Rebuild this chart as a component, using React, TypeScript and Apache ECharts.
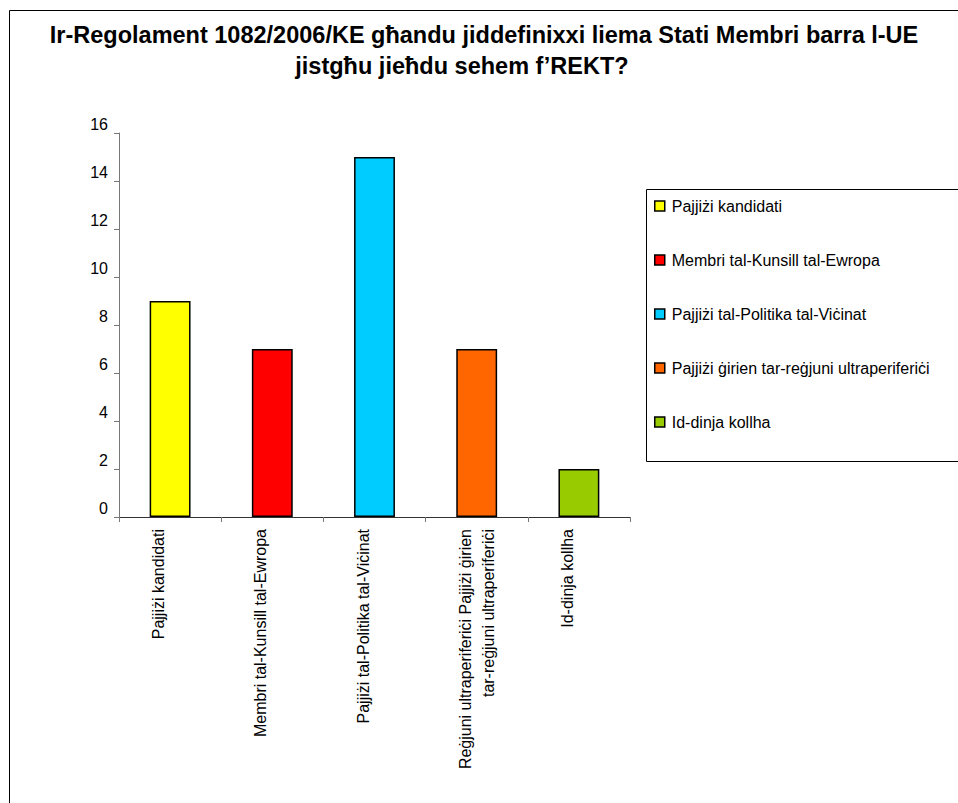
import React, { useEffect, useRef } from "react";
import * as echarts from "echarts";

const titleLines = [
  "Ir-Regolament 1082/2006/KE għandu jiddefinixxi liema Stati Membri barra l-UE",
  "jistgħu jieħdu sehem f’REKT?",
];
const categories = [
  "Pajjiżi kandidati",
  "Membri tal-Kunsill tal-Ewropa",
  "Pajjiżi tal-Politika tal-Viċinat",
  "Reġjuni ultraperiferiċi Pajjiżi ġirien\ntar-reġjuni ultraperiferiċi",
  "Id-dinja kollha",
];
const seriesNames = [
  "Pajjiżi kandidati",
  "Membri tal-Kunsill tal-Ewropa",
  "Pajjiżi tal-Politika tal-Viċinat",
  "Pajjiżi ġirien tar-reġjuni ultraperiferiċi",
  "Id-dinja kollha",
];
const values = [9, 7, 15, 7, 2];
const colors = ["#FFFF00", "#FF0000", "#00CCFF", "#FF6600", "#99CC00"];
const yMin = 0;
const yMax = 16;
const yInterval = 2;

const FONT = "'Liberation Sans', Arial, sans-serif";

export default function App() {
  const ref = useRef<HTMLDivElement>(null);
  useEffect(() => {
    if (!ref.current) return;
    const chart = echarts.init(ref.current, null, { renderer: "svg" });
    chart.setOption({
      animation: false,
      backgroundColor: "#fff",
      textStyle: { fontFamily: FONT },
      graphic: [
        {
          type: "rect",
          shape: { x: 9.5, y: 10.5, width: 1000, height: 900 },
          style: { fill: "none", stroke: "#000", lineWidth: 1 },
          silent: true,
        },
        {
          type: "rect",
          shape: { x: 646.5, y: 189.5, width: 400, height: 272 },
          style: { fill: "none", stroke: "#000", lineWidth: 1 },
          silent: true,
        },
        {
          type: "text",
          x: 484,
          y: 35,
          style: {
            text: titleLines[0],
            textAlign: "center",
            textVerticalAlign: "middle",
            font: `bold 23.5px ${FONT}`,
            fill: "#000",
          },
        },
        {
          type: "text",
          x: 462,
          y: 66,
          style: {
            text: titleLines[1],
            textAlign: "center",
            textVerticalAlign: "middle",
            font: `bold 23.5px ${FONT}`,
            fill: "#000",
          },
        },
      ],
      legend: {
        orient: "vertical",
        left: 654,
        top: 198,
        padding: 0,
        itemWidth: 10,
        itemHeight: 10,
        itemGap: 38,
        icon: "rect",
        itemStyle: { borderColor: "#000", borderWidth: 1.5 },
        textStyle: {
          fontSize: 16,
          lineHeight: 16,
          color: "#000",
          fontFamily: FONT,
          padding: [0, 0, 0, 2],
        },
        data: seriesNames,
      },
      grid: { left: 119, top: 133, width: 511, height: 384, containLabel: false },
      xAxis: {
        type: "category",
        data: categories,
        axisLine: { lineStyle: { color: "#333", width: 1 } },
        axisTick: { show: true, length: 5, lineStyle: { color: "#777" } },
        axisLabel: {
          rotate: 90,
          interval: 0,
          margin: 12,
          fontSize: 16,
          color: "#000",
          fontFamily: FONT,
          lineHeight: 23,
          formatter: (v: string) => (v.includes("\n") ? v : v + "\n"),
        },
      },
      yAxis: {
        type: "value",
        min: yMin,
        max: yMax,
        interval: yInterval,
        splitLine: { show: false },
        axisLine: { show: true, lineStyle: { color: "#777", width: 1 } },
        axisTick: { show: true, length: 5, lineStyle: { color: "#777" } },
        axisLabel: {
          fontSize: 16,
          color: "#000",
          fontFamily: FONT,
          margin: 11,
          verticalAlign: "bottom",
          padding: [0, 0, 1, 0],
        },
      },
      series: seriesNames.map((name, i) => ({
        name,
        type: "bar",
        stack: "all",
        barWidth: "40%",
        itemStyle: { color: colors[i], borderColor: "#000", borderWidth: 1.5 },
        data: categories.map((_, j) => (j === i ? values[i] : null)),
      })),
    });
    return () => chart.dispose();
  }, []);
  return (
    <div
      ref={ref}
      style={{ position: "fixed", left: 0, top: 0, width: 958, height: 803 }}
    />
  );
}
